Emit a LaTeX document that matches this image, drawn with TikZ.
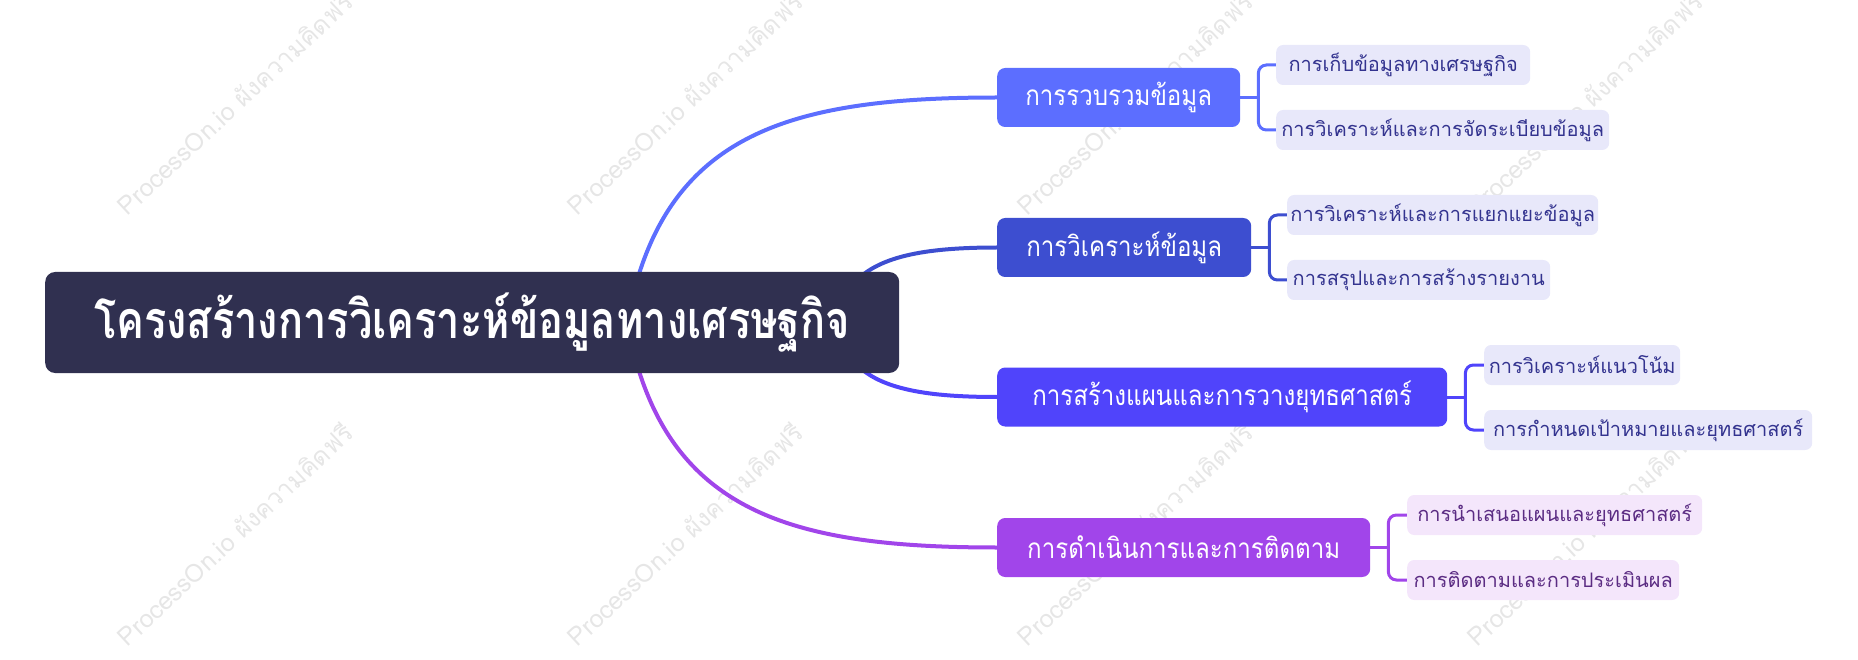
\documentclass[tikz,border=0pt]{standalone}
\usepackage{fontspec}
\newfontfamily\thai[Script=Thai]{Loma}
\newfontfamily\thairoot[Script=Thai,FakeStretch=0.8]{Loma}
\newfontfamily\thaibr[Script=Thai,FakeStretch=0.86]{Loma}
\usetikzlibrary{calc}
\definecolor{rootc}{HTML}{303050}
\definecolor{ca}{HTML}{5C6EFF}
\definecolor{cb}{HTML}{3D4ED0}
\definecolor{cc}{HTML}{5044FB}
\definecolor{cd}{HTML}{A145EA}
\definecolor{leafbg}{HTML}{E8E8FA}
\definecolor{leafbgd}{HTML}{F4E6FB}
\definecolor{leaftx}{HTML}{33338F}
\definecolor{leaftxd}{HTML}{5B2C83}
\definecolor{wmc}{HTML}{E6E6E6}
\pgfdeclarelayer{wm}
\pgfdeclarelayer{bg}
\pgfsetlayers{wm,bg,main}
\begin{document}
\begin{tikzpicture}[x=1pt,y=-1pt,
  rootbox/.style={rounded corners=10pt, fill=rootc, text=white, font=\thairoot\bfseries\fontsize{52}{60}\selectfont, minimum width=854pt, minimum height=101pt, inner sep=0pt, anchor=west},
  branchbox/.style={rounded corners=8pt, text=white, font=\thaibr\fontsize{28}{32}\selectfont, minimum height=59pt, inner sep=0pt, anchor=west},
  leafbox/.style={rounded corners=7pt, fill=leafbg, text=leaftx, font=\thai\fontsize{20}{24}\selectfont, minimum height=40pt, inner sep=0pt, anchor=west},
  leafboxd/.style={leafbox, fill=leafbgd, text=leaftxd},
  link/.style={line width=4pt},
  brk/.style={line width=3pt, rounded corners=8pt},
  wmark/.style={text=wmc, font=\thai\fontsize{25}{30}\selectfont, rotate=43, anchor=south west, inner sep=0pt}
]
\useasboundingbox (0,0) rectangle (1858,660);
% watermarks
\begin{pgfonlayer}{wm}
\foreach \i/\xx in {1/128,2/578,3/1028,4/1478}{
  \node[wmark] (wt\i) at (\xx,217) {ProcessOn.io ผังความคิดฟรี};
  \node[wmark] (wb\i) at (\xx,648) {ProcessOn.io ผังความคิดฟรี};
}
\end{pgfonlayer}
% nodes
\node[rootbox] (root) at (45,322.5) {โครงสร้างการวิเคราะห์ข้อมูลทางเศรษฐกิจ};
\node[branchbox, fill=ca, minimum width=243pt] (b1) at (997,97.5) {การรวบรวมข้อมูล};
\node[branchbox, fill=cb, minimum width=254pt] (b2) at (997,247.5) {การวิเคราะห์ข้อมูล};
\node[branchbox, fill=cc, minimum width=450pt] (b3) at (997,397) {การสร้างแผนและการวางยุทธศาสตร์};
\node[branchbox, fill=cd, minimum width=373pt] (b4) at (997,547.5) {การดำเนินการและการติดตาม};
\node[leafbox, minimum width=254pt] (l1a) at (1276,65) {การเก็บข้อมูลทางเศรษฐกิจ};
\node[leafbox, minimum width=333pt] (l1b) at (1276,130) {การวิเคราะห์และการจัดระเบียบข้อมูล};
\node[leafbox, minimum width=311pt] (l2a) at (1287,215) {การวิเคราะห์และการแยกแยะข้อมูล};
\node[leafbox, minimum width=263pt] (l2b) at (1287,280) {การสรุปและการสร้างรายงาน};
\node[leafbox, minimum width=196pt] (l3a) at (1484,365) {การวิเคราะห์แนวโน้ม};
\node[leafbox, minimum width=328pt] (l3b) at (1484,430) {การกำหนดเป้าหมายและยุทธศาสตร์};
\node[leafboxd, minimum width=295pt] (l4a) at (1407,515) {การนำเสนอแผนและยุทธศาสตร์};
\node[leafboxd, minimum width=272pt] (l4b) at (1407,580) {การติดตามและการประเมินผล};
% connectors
\begin{pgfonlayer}{bg}
\draw[link, ca] ($(root.north)+(165,8)$) .. controls (682,130) and (800,97.5) .. (b1.west);
\draw[link, cb] ($(root.north east)+(-44,10)$) .. controls (880,255) and (930,247.5) .. (b2.west);
\draw[link, cc] ($(root.south east)+(-44,-10)$) .. controls (880,390) and (930,397) .. (b3.west);
\draw[link, cd] ($(root.south)+(165,-8)$) .. controls (682,515) and (800,547.5) .. (b4.west);
\coordinate (j1) at ($(b1.east)+(18,0)$);
\coordinate (j2) at ($(b2.east)+(18,0)$);
\coordinate (j3) at ($(b3.east)+(18,0)$);
\coordinate (j4) at ($(b4.east)+(18,0)$);
\draw[brk, ca] (b1.east) -- (j1);
\draw[brk, ca] (l1a.west) -| (j1) |- (l1b.west);
\draw[brk, cb] (b2.east) -- (j2);
\draw[brk, cb] (l2a.west) -| (j2) |- (l2b.west);
\draw[brk, cc] (b3.east) -- (j3);
\draw[brk, cc] (l3a.west) -| (j3) |- (l3b.west);
\draw[brk, cd] (b4.east) -- (j4);
\draw[brk, cd] (l4a.west) -| (j4) |- (l4b.west);
\end{pgfonlayer}
\end{tikzpicture}
\end{document}
